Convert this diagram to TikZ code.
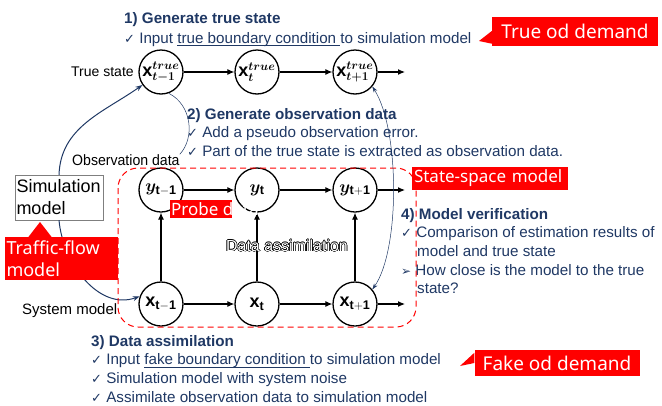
\documentclass[tikz,border=0pt]{standalone}
\usepackage{amsmath}
\usepackage{bm}
\usepackage{fontspec}
\setmainfont{Liberation Sans}
\newfontfamily\calloutfont{Noto Sans}
\newfontfamily\symbfont{DejaVu Sans}
\usepackage{contour}
\contourlength{0.5pt}
\usetikzlibrary{arrows.meta}
\definecolor{navy}{HTML}{1F3864}
\definecolor{boxgray}{HTML}{7F7F7F}
\newcommand{\chk}{{\symbfont\fontsize{13}{14}\selectfont ✓}\ }
\newcommand{\arr}{{\symbfont\fontsize{12}{14}\selectfont ➢}\ }
\newcommand{\ulined}[1]{\setbox0\hbox{#1}\rlap{\rule[-2.8pt]{\wd0}{0.9pt}}\box0}

\begin{document}
\begin{tikzpicture}[x=1pt, y=-1pt,
  every node/.style={inner sep=0pt},
  state/.style={circle, draw, line width=1.3pt, fill=white, minimum size=44pt, font=\fontsize{18}{20}\selectfont},
  flow/.style={-{Latex[length=7pt,width=6pt]}, line width=1.1pt},
  link/.style={navy, line width=1pt, -{Stealth[length=7pt,width=5pt]}},
  thinlink/.style={navy, line width=0.5pt},
  callout/.style={fill=red, text=white, font=\calloutfont\fontsize{19}{22}\selectfont},
  textblock/.style={anchor=north west, align=left, text=navy, font=\fontsize{15.2}{18.6}\selectfont},
  rowlabel/.style={anchor=west, font=\fontsize{15}{17}\selectfont}
]
\useasboundingbox (0,0) rectangle (662,405);

% state nodes
\node[state] (t1) at (161,72) {$\mathbf{x}^{\bm{true}}_{\bm{t-1}}$};
\node[state] (t2) at (257,72) {$\mathbf{x}^{\bm{true}}_{\bm{t}}$};
\node[state] (t3) at (355,72) {$\mathbf{x}^{\bm{true}}_{\bm{t+1}}$};
\node[state] (y1) at (161,190) {$\bm{y}_{\mathbf{t-1}}$};
\node[state] (y2) at (257,190) {$\bm{y}_{\mathbf{t}}$};
\node[state] (y3) at (355,190) {$\bm{y}_{\mathbf{t+1}}$};
\node[state] (x1) at (161,304) {$\mathbf{x}_{\mathbf{t-1}}$};
\node[state] (x2) at (257,304) {$\mathbf{x}_{\mathbf{t}}$};
\node[state] (x3) at (355,304) {$\mathbf{x}_{\mathbf{t+1}}$};
\coordinate (tend) at (405,72);
\coordinate (yend) at (405,190);
\coordinate (xend) at (405,304);

\draw[flow] (t1) -- (t2);
\draw[flow] (t2) -- (t3);
\draw[flow] (t3) -- (tend);
\draw[flow] (y1) -- (y2);
\draw[flow] (y2) -- (y3);
\draw[flow] (y3) -- (yend);
\draw[flow] (x1) -- (x2);
\draw[flow] (x2) -- (x3);
\draw[flow] (x3) -- (xend);
\draw[flow] (x1) -- (y1);
\draw[flow] (x2) -- (y2);
\draw[flow] (x3) -- (y3);

% simulation model and its links
\node[draw=boxgray, fill=white, minimum width=88pt, minimum height=45pt, align=left,
  text width=85pt, font=\fontsize{18}{22}\selectfont] (sim) at (59,197.5) {Simulation\\model};
\draw[link] (sim.north) to[out=88, in=215] (t1.215);
\draw[link] (sim.south) to[out=-85, in=200] (x1.160);
\node[callout, minimum width=113pt, minimum height=43pt, align=left, text width=110pt,
  font=\calloutfont\fontsize{18}{22}\selectfont] (traffic) at (61.5,258.5) {Traffic-flow\\model};
\fill[red] (28,237.5) -- (40,222) -- (52,237.5) -- cycle;

% probe data
\fill[red] (170,200) rectangle (232,218);
\node[anchor=west, text=white, font=\calloutfont\fontsize{17}{18}\selectfont] (probe) at (171,209.5) {Probe data};

% labels
\node[rowlabel, font=\fontsize{14}{16}\selectfont] (truelabel) at (71,72) {True state};
\node[rowlabel] (obslabel) at (72,160) {\scalebox{0.94}[1]{Observation data}};
\node[rowlabel] (syslabel) at (22,311) {System model};
\draw[thinlink] (obslabel.north east) .. controls (195,138) and (192,105) .. (t1.290);

% steps
\node[textblock] (step1) at (124,12) {\textbf{1) Generate true state}\\[1.3pt]
  \chk Input \ulined{true boundary condition\ }to simulation model};
\node[textblock] (step2) at (187,108) {\textbf{2) Generate observation data}\\
  \chk Add a pseudo observation error.\\
  \chk Part of the true state is extracted as observation data.};
\node[textblock] (step4) at (401,208) {\textbf{4) Model verification}\\
  \chk Comparison of estimation results of\\
  \hspace*{16pt}model and true state\\
  \arr How close is the model to the true\\
  \hspace*{16pt}state?};
\node[textblock] (step3) at (91,335) {\textbf{3) Data assimilation}\\
  \chk Input \ulined{fake boundary condition\ }to simulation model\\
  \chk Simulation model with system noise\\
  \chk Assimilate observation data to simulation model};

% callouts
\node[callout, minimum width=166pt, minimum height=29pt] (trueod) at (575,31) {True od demand};
\fill[red] (trueod.west) -- (479,41) -- ([yshift=2pt]trueod.south west) -- cycle;
\node[callout, minimum width=165pt, minimum height=26pt] (fakeod) at (557,363) {Fake od demand};
\fill[red] ([yshift=-3pt]fakeod.north west) -- (460,366) -- (fakeod.west) -- cycle;
\node[callout, minimum width=156pt, minimum height=23pt, text width=152pt, align=left,
  font=\calloutfont\fontsize{17}{20}\selectfont] (ssm) at (490,178) {State-space model};

% state-space model frame
\draw[red, line width=1pt, dash pattern=on 6pt off 4pt, rounded corners=20pt] (118,168) rectangle (416,327);
\node[text=white, font=\fontsize{16}{18}\selectfont] (da) at (287,246) {\contour{black}{Data assimilation}};
\draw[thinlink, {Stealth[length=6pt,width=4pt]}-{Stealth[length=6pt,width=4pt]}] (t3.-40) .. controls (400,130) and (400,250) .. (x3.40);
\end{tikzpicture}
\end{document}
